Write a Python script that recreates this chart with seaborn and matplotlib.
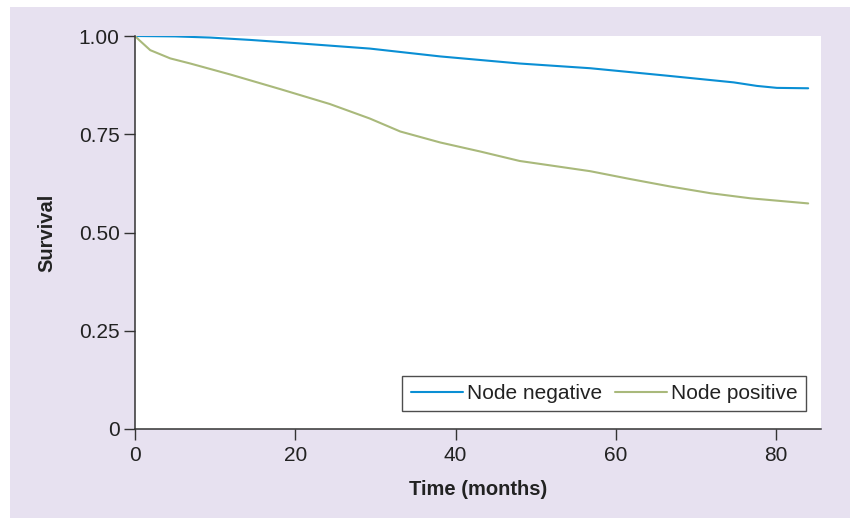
import matplotlib
matplotlib.use("Agg")
import matplotlib.pyplot as plt
import matplotlib.patches as patches
import seaborn as sns
import pandas as pd

# survival curves
neg_time = [0, 5, 9.4, 14.4, 20, 29.3, 38.1, 48, 56.8, 66.4, 74.7, 77.6, 80.1, 84]
neg_surv = [1.0, 0.999, 0.996, 0.99, 0.982, 0.968, 0.948, 0.930, 0.918, 0.899, 0.882, 0.873, 0.868, 0.867]

pos_time = [0, 0.5, 1.9, 4.4, 6.9, 11.9, 18.1, 24.3, 29.3, 33.1, 38.1, 43.1, 48, 51.4,
            56.8, 61.8, 66.8, 71.8, 76.8, 84]
pos_surv = [1.0, 0.99, 0.964, 0.943, 0.930, 0.902, 0.865, 0.827, 0.790, 0.757, 0.729, 0.706,
            0.682, 0.672, 0.656, 0.636, 0.617, 0.600, 0.587, 0.574]

groups = ["Node negative", "Node positive"]
x_ticks = [0, 20, 40, 60, 80]
y_ticks = [0, 0.25, 0.5, 0.75, 1.0]
y_labels = ["0", "0.25", "0.50", "0.75", "1.00"]

df = pd.concat([
    pd.DataFrame({"time": neg_time, "surv": neg_surv, "group": groups[0]}),
    pd.DataFrame({"time": pos_time, "surv": pos_surv, "group": groups[1]}),
])

sns.set_style("ticks")
plt.rcParams["font.family"] = ["Liberation Sans", "DejaVu Sans"]

fig = plt.figure(figsize=(8.54, 5.18), dpi=100)
# lavender panel behind the chart
fig.patches.append(patches.Rectangle((10 / 854, 0), 840 / 854, 511 / 518,
                                     transform=fig.transFigure, facecolor="#e7e1f0",
                                     edgecolor="none", zorder=-1))
ax = fig.add_axes([135 / 854, 89 / 518, 686 / 854, 393 / 518])
ax.set_facecolor("white")

sns.lineplot(data=df, x="time", y="surv", hue="group", hue_order=groups,
             palette=["#0a8fd4", "#a9b97b"], linewidth=1.5, ax=ax, estimator=None,
             sort=True)

ax.set_xlim(0, 85.6)
ax.set_ylim(0, 1.0)
ax.set_xticks(x_ticks)
ax.set_yticks(y_ticks)
ax.set_yticklabels(y_labels)
ax.tick_params(axis="both", direction="out", length=8, width=1.0, color="#333333",
               labelsize=15, labelcolor="#222222")
ax.tick_params(axis="x", pad=4)
ax.tick_params(axis="y", pad=3)
for s in ["top", "right"]:
    ax.spines[s].set_visible(False)
for s in ["left", "bottom"]:
    ax.spines[s].set_color("#333333")
    ax.spines[s].set_linewidth(1.1)

ax.set_xlabel("Time (months)", fontsize=14.5, fontweight="bold", color="#222222", labelpad=11)
ax.set_ylabel("Survival", fontsize=14.5, fontweight="bold", color="#222222", labelpad=16)

leg = ax.legend(loc="lower right", ncol=2, fontsize=15, frameon=True, fancybox=False,
                bbox_to_anchor=(0.978, 0.045), handlelength=2.5, handletextpad=0.2,
                columnspacing=0.6, borderpad=0.4, borderaxespad=0)
leg.get_frame().set_edgecolor("#222222")
leg.get_frame().set_linewidth(1.0)
for t in leg.get_texts():
    t.set_color("#222222")

fig.savefig("out.png", dpi=100)
